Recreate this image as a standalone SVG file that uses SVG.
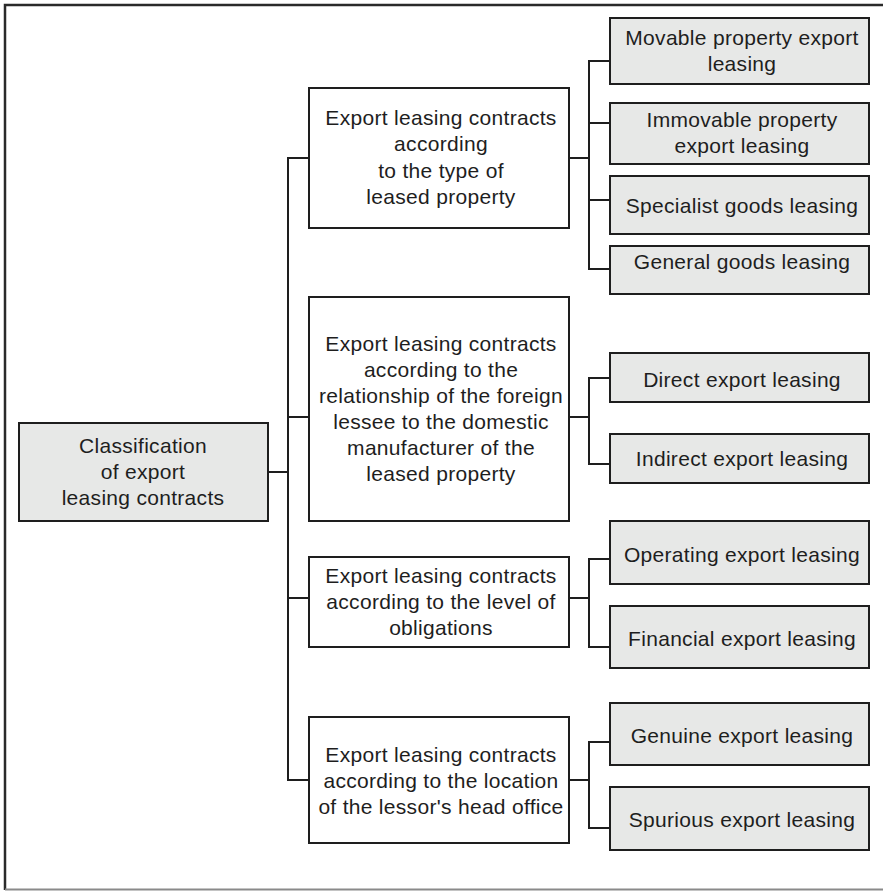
<svg xmlns="http://www.w3.org/2000/svg" width="883" height="891" viewBox="0 0 883 891">
  <style>
    .box { fill: #ffffff; stroke: #1e1e1e; stroke-width: 2; }
    .leaf { fill: #e7e8e7; stroke: #1e1e1e; stroke-width: 2; }
    .lbl { font-family: "Liberation Sans", Arial, sans-serif; font-size: 21px; fill: #1e1e1e; text-anchor: middle; letter-spacing: 0.3px; }
    .wire { fill: none; stroke: #1e1e1e; stroke-width: 2; }
  </style>
  <rect width="883" height="891" fill="#ffffff"/>
  <!-- frame -->
  <path d="M5,890 V5 H883" fill="none" stroke="#2a2a2a" stroke-width="2.5"/>
  <line x1="5" y1="889.5" x2="883" y2="889.5" stroke="#8a8a8a" stroke-width="2"/>

  <g id="connectors">
    <!-- root to trunk -->
    <path class="wire" d="M268,472 H288"/>
    <path class="wire" d="M309,158 H288 V780 H309"/>
    <path class="wire" d="M288,417 H309"/>
    <path class="wire" d="M288,598 H309"/>
    <!-- group A -->
    <path class="wire" d="M569,158 H589"/>
    <path class="wire" d="M610,61 H589 V269 H610"/>
    <path class="wire" d="M589,123 H610"/>
    <path class="wire" d="M589,200 H610"/>
    <!-- group B -->
    <path class="wire" d="M569,417 H589"/>
    <path class="wire" d="M610,378 H589 V464 H610"/>
    <!-- group C -->
    <path class="wire" d="M569,598 H589"/>
    <path class="wire" d="M610,559 H589 V647 H610"/>
    <!-- group D -->
    <path class="wire" d="M569,780 H589"/>
    <path class="wire" d="M610,742 H589 V828 H610"/>
  </g>

  <g id="root">
    <rect class="leaf" x="19" y="423" width="249" height="98"/>
    <text class="lbl" x="143" y="453">Classification</text>
    <text class="lbl" x="143" y="479">of export</text>
    <text class="lbl" x="143" y="505">leasing contracts</text>
  </g>

  <g id="by-property-type">
    <rect class="box" x="309" y="88" width="260" height="140"/>
    <text class="lbl" x="441" y="125">Export leasing contracts</text>
    <text class="lbl" x="441" y="151">according</text>
    <text class="lbl" x="441" y="178">to the type of</text>
    <text class="lbl" x="441" y="204">leased property</text>
  </g>

  <g id="by-relationship">
    <rect class="box" x="309" y="297" width="260" height="224"/>
    <text class="lbl" x="441" y="351">Export leasing contracts</text>
    <text class="lbl" x="441" y="377">according to the</text>
    <text class="lbl" x="441" y="403">relationship of the foreign</text>
    <text class="lbl" x="441" y="429">lessee to the domestic</text>
    <text class="lbl" x="441" y="455">manufacturer of the</text>
    <text class="lbl" x="441" y="481">leased property</text>
  </g>

  <g id="by-obligations">
    <rect class="box" x="309" y="557" width="260" height="90"/>
    <text class="lbl" x="441" y="583">Export leasing contracts</text>
    <text class="lbl" x="441" y="609">according to the level of</text>
    <text class="lbl" x="441" y="635">obligations</text>
  </g>

  <g id="by-head-office">
    <rect class="box" x="309" y="717" width="260" height="126"/>
    <text class="lbl" x="441" y="762">Export leasing contracts</text>
    <text class="lbl" x="441" y="788">according to the location</text>
    <text class="lbl" x="441" y="814">of the lessor's head office</text>
  </g>

  <g id="movable">
    <rect class="leaf" x="610" y="18" width="259" height="66"/>
    <text class="lbl" x="742" y="45">Movable property export</text>
    <text class="lbl" x="742" y="71">leasing</text>
  </g>
  <g id="immovable">
    <rect class="leaf" x="610" y="103" width="259" height="61"/>
    <text class="lbl" x="742" y="127">Immovable property</text>
    <text class="lbl" x="742" y="153">export leasing</text>
  </g>
  <g id="specialist">
    <rect class="leaf" x="610" y="176" width="259" height="58"/>
    <text class="lbl" x="742" y="213">Specialist goods leasing</text>
  </g>
  <g id="general">
    <rect class="leaf" x="610" y="246" width="259" height="48"/>
    <text class="lbl" x="742" y="269">General goods leasing</text>
  </g>

  <g id="direct">
    <rect class="leaf" x="610" y="353" width="259" height="49"/>
    <text class="lbl" x="742" y="387">Direct export leasing</text>
  </g>
  <g id="indirect">
    <rect class="leaf" x="610" y="434" width="259" height="49"/>
    <text class="lbl" x="742" y="466">Indirect export leasing</text>
  </g>

  <g id="operating">
    <rect class="leaf" x="610" y="521" width="259" height="63"/>
    <text class="lbl" x="742" y="562">Operating export leasing</text>
  </g>
  <g id="financial">
    <rect class="leaf" x="610" y="606" width="259" height="62"/>
    <text class="lbl" x="742" y="646">Financial export leasing</text>
  </g>

  <g id="genuine">
    <rect class="leaf" x="610" y="703" width="259" height="62"/>
    <text class="lbl" x="742" y="743">Genuine export leasing</text>
  </g>
  <g id="spurious">
    <rect class="leaf" x="610" y="787" width="259" height="63"/>
    <text class="lbl" x="742" y="827">Spurious export leasing</text>
  </g>
</svg>
